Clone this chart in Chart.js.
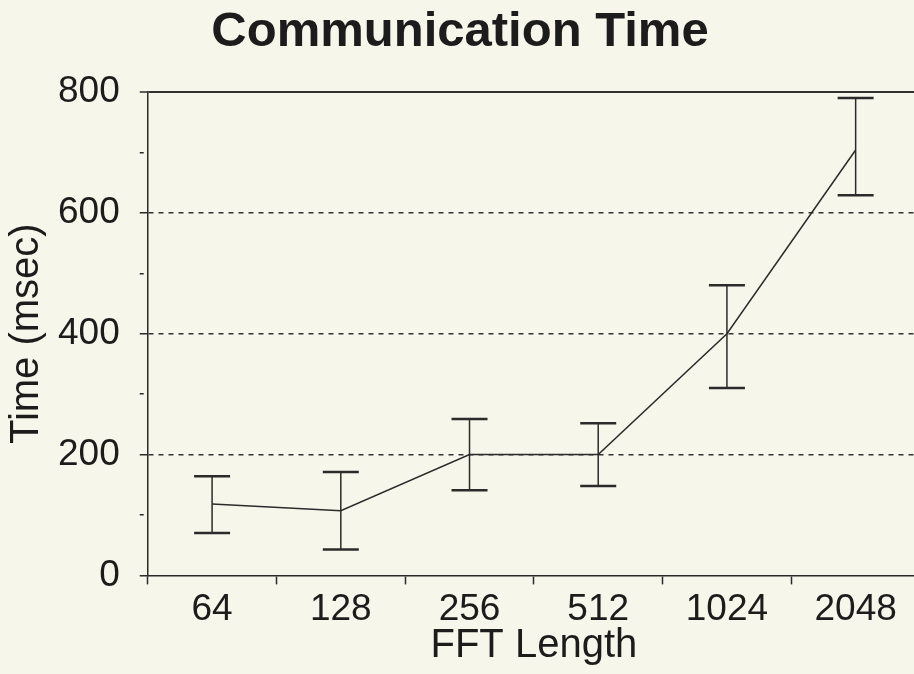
<!DOCTYPE html>
<html><head><meta charset="utf-8">
<script src="https://cdn.jsdelivr.net/npm/chart.js@4.4.1/dist/chart.umd.min.js"></script>
<style>
html,body{margin:0;padding:0;background:#f7f6eb;overflow:hidden;width:914px;height:674px}
#wrap{width:922px;height:674px}
</style></head>
<body><div id="wrap"><canvas id="c" width="922" height="674"></canvas></div>
<script>
const categories = ['64', '128', '256', '512', '1024', '2048'];
const timeMean = [118, 107, 200, 200, 400, 704];
const errHigh = [164, 171, 259, 252, 480, 790];
const errLow = [70, 43, 141, 148, 310, 629];
const yLabelTicks = [0, 200, 400, 600, 800];
const dashedGrid = [200, 400, 600];

const INK = '#2b2b2b';
const TEXT = '#1c1c1c';
Chart.defaults.font.family = '"Liberation Sans", Arial, Helvetica, sans-serif';

const errorBars = {
  id: 'errorBars',
  afterDatasetsDraw(chart) {
    const {ctx, scales: {x, y}} = chart;
    ctx.save();
    ctx.strokeStyle = INK;
    categories.forEach((c, i) => {
      const px = x.getPixelForValue(i);
      const top = y.getPixelForValue(errHigh[i]);
      const bot = y.getPixelForValue(errLow[i]);
      ctx.lineWidth = 1.5;
      ctx.beginPath(); ctx.moveTo(px, top); ctx.lineTo(px, bot); ctx.stroke();
      ctx.lineWidth = 2.5;
      ctx.beginPath();
      ctx.moveTo(px - 18, top); ctx.lineTo(px + 18, top);
      ctx.moveTo(px - 18, bot); ctx.lineTo(px + 18, bot);
      ctx.stroke();
    });
    ctx.restore();
  }
};

new Chart(document.getElementById('c'), {
  type: 'line',
  data: {
    labels: categories,
    datasets: [{
      data: timeMean,
      borderColor: INK,
      borderWidth: 1.5,
      pointRadius: 0,
      tension: 0,
      fill: false
    }]
  },
  options: {
    responsive: false,
    animation: false,
    layout: {padding: {left: 0, right: 2, top: 0, bottom: 12}},
    plugins: {
      legend: {display: false},
      tooltip: {enabled: false},
      title: {
        display: true,
        text: 'Communication Time',
        color: TEXT,
        font: {size: 49, weight: 'bold', lineHeight: 1},
        padding: {top: 7.5, bottom: 35.5}
      }
    },
    scales: {
      x: {
        offset: true,
        grid: {offset: true, drawOnChartArea: false, tickLength: 9, tickColor: INK, tickWidth: 1.5},
        border: {color: INK, width: 1.5},
        ticks: {padding: 11, color: TEXT, autoSkip: false, maxRotation: 0, font: {size: 37, lineHeight: 0.8}},
        title: {display: true, text: 'FFT Length', color: TEXT, font: {size: 40, lineHeight: 0.8}, padding: {top: -6, bottom: 0}}
      },
      y: {
        min: 0,
        max: 800,
        ticks: {
          stepSize: 100,
          autoSkip: false,
          padding: 20,
          color: TEXT,
          font: {size: 37, lineHeight: 1},
          callback: v => yLabelTicks.includes(v) ? String(v) : ''
        },
        grid: {
          color: c => (c.tick && (dashedGrid.includes(c.tick.value) || c.tick.value === 800)) ? '#333333' : 'rgba(0,0,0,0)',
          lineWidth: c => (c.tick && c.tick.value === 800) ? 2 : 1.5,
          tickLength: 8,
          tickColor: INK,
          tickWidth: 1.5,
          tickBorderDash: c => (c.tick && yLabelTicks.includes(c.tick.value)) ? [] : [4, 100]
        },
        border: {
          color: INK,
          width: 1.5,
          dash: c => (c.tick && dashedGrid.includes(c.tick.value)) ? [5, 5] : []
        },
        title: {display: true, text: 'Time (msec)', color: TEXT, font: {size: 40, lineHeight: 1}, padding: {top: 7, bottom: -9}}
      }
    }
  },
  plugins: [errorBars]
});
</script>
</body></html>
